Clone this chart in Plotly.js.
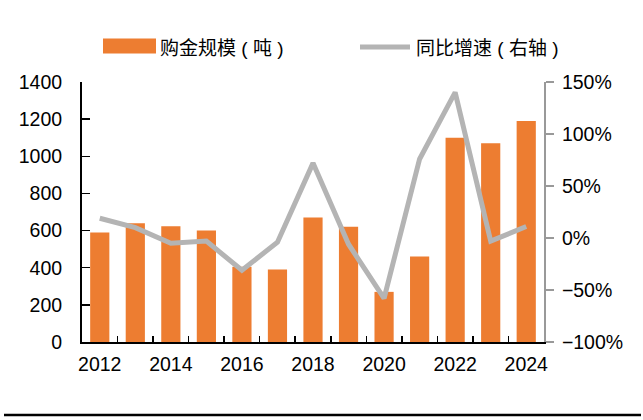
<!DOCTYPE html>
<html><head><meta charset="utf-8">
<script src="https://cdn.plot.ly/plotly-3.0.1.min.js"></script>
<style>html,body{margin:0;padding:0;background:#fff}#c{width:643px;height:420px}</style>
</head><body><div id="c"></div>
<script>
var years = [2012,2013,2014,2015,2016,2017,2018,2019,2020,2021,2022,2023,2024];
var purchaseTons = [590,640,623,600,405,390,670,620,270,460,1100,1070,1190];
var yoyGrowth = [19,10,-5,-3,-31,-4,72,-6,-58,76,140,-3,11];
var xTickLabels = ['2012','2014','2016','2018','2020','2022','2024'];
var barName = '购金规模（吨）';
var lineName = '同比增速（右轴）';

var L=82, R=544, T=82, B=342;
function px(x){return (x-L)/(R-L);}
function py(y){return (B-y)/(B-T);}
function legendText(s){
  var sp = '<span style="font-family:Liberation Sans">';
  return s.replace('（', sp+'&nbsp;(&nbsp;</span>').replace('）', sp+'&nbsp;)</span>');
}

var numFont = {family:'Liberation Sans, Arial, sans-serif', size:19.5, color:'#000'};
var cjkFont = {family:'"Noto Sans CJK SC", sans-serif', size:19, color:'#000'};

var traces = [
 {type:'bar', x:years, y:purchaseTons, name:barName, marker:{color:'#ED7D31'}, yaxis:'y'},
 {type:'scatter', mode:'lines', x:years, y:yoyGrowth, name:lineName, yaxis:'y2',
  line:{color:'#B4B4B4', width:5}}
];

var layout = {
 width:643, height:420,
 margin:{l:L, r:643-R, t:T, b:420-B},
 paper_bgcolor:'#fff', plot_bgcolor:'#fff',
 showlegend:false, bargap:0.46,
 font:numFont,
 xaxis:{range:[years[0]-0.5, years[years.length-1]+0.5], tickvals:xTickLabels.map(Number), ticktext:xTickLabels,
   ticks:'', showgrid:false, zeroline:false, showline:true, linecolor:'#000', linewidth:2,
   tickfont:numFont, ticklabelstandoff:4,
   minor:{tickvals:years.slice(1).map(function(y){return y-0.5;}), ticks:'inside', ticklen:6, tickcolor:'#000', tickwidth:1.5, showgrid:false}},
 yaxis:{range:[0,1400], dtick:200, ticks:'inside', ticklen:8, tickcolor:'#000', tickwidth:1.5,
   showline:true, linecolor:'#000', linewidth:2, showgrid:false, zeroline:false, tickfont:numFont, ticklabelstandoff:14},
 yaxis2:{overlaying:'y', side:'right', range:[-100,150], dtick:50, ticksuffix:'%', ticks:'outside', ticklen:8,
   tickcolor:'#999', tickwidth:1.5, showline:true, linecolor:'#999', linewidth:2, showgrid:false, zeroline:false,
   tickfont:numFont, ticklabelstandoff:4},
 shapes:[
  {type:'rect', xref:'paper', yref:'paper', x0:px(103), x1:px(156), y0:py(53.5), y1:py(38.5), fillcolor:'#ED7D31', line:{width:0}},
  {type:'line', xref:'paper', yref:'paper', x0:px(360), x1:px(410), y0:py(47), y1:py(47), line:{color:'#B4B4B4', width:5}},
  {type:'line', xref:'paper', yref:'paper', x0:px(4), x1:px(641), y0:py(415), y1:py(415), line:{color:'#000', width:2.5}}
 ],
 annotations:[
  {xref:'paper', yref:'paper', x:px(158), y:py(46), xanchor:'left', yanchor:'middle', text:legendText(barName), showarrow:false, font:cjkFont},
  {xref:'paper', yref:'paper', x:px(414), y:py(46), xanchor:'left', yanchor:'middle', text:legendText(lineName), showarrow:false, font:cjkFont}
 ]
};
Plotly.newPlot('c', traces, layout, {displayModeBar:false, staticPlot:true});
</script></body></html>
